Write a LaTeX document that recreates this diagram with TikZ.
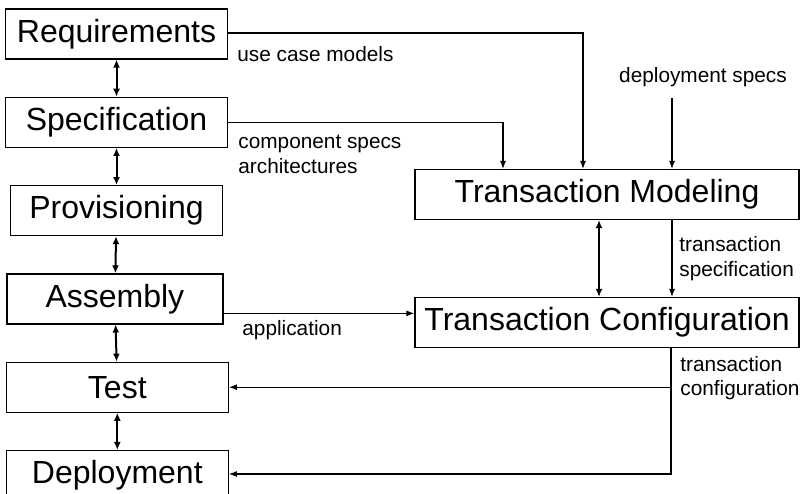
\documentclass[tikz,border=0pt]{standalone}
\usepackage{fontspec}
\setmainfont{Liberation Sans}
\usepackage{tikz}
\usetikzlibrary{positioning,arrows.meta}
\tikzstyle{phase} = [rectangle, minimum width=111pt, minimum height=25pt, inner sep=0pt, text centered, draw=black, line width=0.6pt, font=\fontsize{16}{19}\selectfont]
\tikzstyle{txbox} = [phase, minimum width=192pt]
\tikzstyle{note} = [inner sep=0pt, align=left, font=\fontsize{10.4}{12.2}\selectfont]
\tikzstyle{connect} = [line width=0.55pt,-{Latex[length=4pt,width=3pt]}]
\tikzstyle{connect2} = [line width=1pt,{Latex[length=4pt,width=3.5pt]}-{Latex[length=4pt,width=3.5pt]}]

\begin{document}
\begin{tikzpicture}[x=0.5pt, y=-0.5pt, node distance=44.15pt]
			\useasboundingbox (0,0) rectangle (806,493);
			\clip (0,0) rectangle (806,493);
			% development phases
			\node (req) [phase] at (116.5,34) {Requirements};
			\node (spec) [phase, below of=req] {Specification};
			\node (prov) [phase, below of=spec, minimum width=106pt] {Provisioning};
			\node (asm) [phase, below of=prov, minimum width=108pt, xshift=-0.8pt] {Assembly};
			\node (test) [phase, below of=asm, xshift=1.2pt] {Test};
			\node (depl) [phase, below of=test] {Deployment};
			% transaction side
			\node (tm) [txbox] at (607,194.5) {Transaction Modeling};
			\node (tc) [txbox, below of=tm, node distance=64pt] {Transaction Configuration};
			\coordinate (dspec) at (672,98);

			\draw [connect2] (req) -- (spec);
			\draw [connect2] (spec) -- (prov);
			\draw [connect2] (prov) -- (asm);
			\draw [connect2] (asm) -- (test);
			\draw [connect2] (test) -- (depl);
			\draw [connect2] ([xshift=-4pt]tm.south) -- ([xshift=-4pt]tc.north);

			\draw [connect] ([yshift=0.5pt]req.east) -| ([xshift=-12pt]tm.north);
			\draw [connect] (spec.east) -| ([xshift=-52pt]tm.north);
			\draw [connect] (dspec) -- (dspec |- tm.north);
			\draw [connect] ([xshift=32.5pt]tm.south) -- ([xshift=32.5pt]tc.north);
			\draw [connect] ([yshift=-7.25pt]asm.east) -- ([yshift=-7.25pt]asm.east -| tc.west);
			\draw [connect] ([xshift=32pt]tc.south) |- ([yshift=0.75pt]depl.east);
			\draw [connect] ([xshift=32pt]tc.south |- test.east) -- (test.east);

			% labels
			\node (ucm) [note, anchor=west] at (237,54) {use case models};
			\node (csa) [note, anchor=west] at (238,154.5) {component specs\\architectures};
			\node (ds) [note] at (703,77) {deployment specs};
			\node (ts) [note, anchor=west] at (679,258.5) {transaction\\specification};
			\node (app) [note, anchor=west] at (242,330) {application};
			\node (tcf) [note, anchor=west] at (680,378) {transaction\\configuration};
\end{tikzpicture}
\end{document}
